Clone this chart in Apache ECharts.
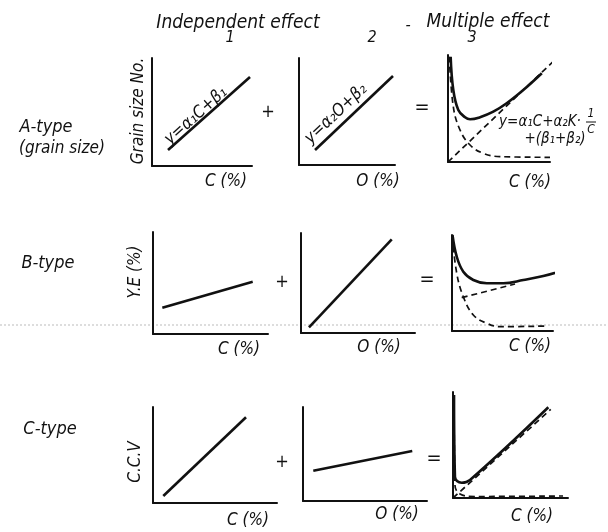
<!DOCTYPE html>
<html>
<head>
<meta charset="utf-8">
<script src="https://cdn.jsdelivr.net/npm/echarts@6/dist/echarts.min.js"></script>
<style>
  html, body { margin: 0; padding: 0; background: #fff; }
  #chart { width: 608px; height: 532px; }
</style>
</head>
<body>
<div id="chart"></div>
<script>
// curves in each panel, x and y both on a 0-100 scale
const a1Line = [[16, 14.8], [98, 82.4]];
const a2Line = [[16.7, 14], [97.9, 83.2]];
const a3Sum = [[2.6, 98.4], [5.2, 67.3], [10.1, 48.6], [16.7, 41.8], [21.6, 39.9], [31.4, 41.8],
  [44.4, 47], [57.5, 54.9], [73.8, 67.3], [92, 83]];
const a3Linear = [[0, 0], [108, 98.4]];
const a3Hyper = [[1.3, 98.4], [5.2, 51.7], [11.8, 29.9], [21.6, 15.9], [34.6, 8.1], [51, 5], [100, 4.4]];

const b1Line = [[8.1, 25.8], [86.7, 51.3]];
const b2Line = [[7, 5.7], [79.6, 93.7]];
const b3Sum = [[0.5, 100], [4.7, 77.4], [11.2, 61.8], [21.1, 53.1], [34.4, 49.7], [50.8, 49.7],
  [70.6, 53.1], [90.4, 57.3], [116.8, 65.3]];
const b3Linear = [[9.6, 34.7], [62.4, 49]];
const b3Hyper = [[0.3, 98.2], [4.7, 60.1], [11.2, 35.7], [21.1, 16.7], [34.4, 8], [47.5, 4.5], [95.3, 5.2]];

const c1Line = [[8.3, 7.3], [75, 89.3]];
const c2Line = [[8.3, 32.2], [88.1, 53.2]];
const c3Sum = [[0.9, 97.2], [1.7, 20.1], [3.5, 16], [7.6, 14.4], [14.8, 17], [82.9, 85.6]];
const c3Linear = [[0, 0], [85, 83.7]];
const c3Hyper = [[0.9, 97.2], [1.7, 12.3], [6.1, 3.8], [19, 1.4], [95.7, 1.9]];

// panel frames (pixels)
const panels = [
  { left: 152, top: 58, width: 100, height: 108 },
  { left: 299, top: 58, width: 96, height: 107 },
  { left: 448, top: 55, width: 102, height: 107 },
  { left: 153, top: 232, width: 115, height: 102 },
  { left: 301, top: 233, width: 114, height: 100 },
  { left: 452, top: 235, width: 101, height: 96 },
  { left: 153, top: 407, width: 124, height: 96 },
  { left: 303, top: 407, width: 124, height: 94 },
  { left: 453, top: 392, width: 115, height: 106 }
];

const ink = '#111';
const font = "'Liberation Sans Narrow', 'DejaVu Sans Condensed', 'Liberation Sans', sans-serif";

function axis() {
  return {
    type: 'value', min: 0, max: 100,
    axisLine: { show: true, onZero: false, lineStyle: { color: ink, width: 2 } },
    axisTick: { show: false }, axisLabel: { show: false }, splitLine: { show: false }
  };
}

function solid(i, data, smooth) {
  return {
    type: 'line', xAxisIndex: i, yAxisIndex: i, data: data, showSymbol: false,
    smooth: smooth ? 0.4 : false, clip: false, silent: true,
    lineStyle: { color: ink, width: 2.6 }
  };
}
function dashed(i, data, smooth) {
  return {
    type: 'line', xAxisIndex: i, yAxisIndex: i, data: data, showSymbol: false,
    smooth: smooth ? 0.4 : false, clip: false, silent: true,
    lineStyle: { color: ink, width: 1.7, type: [6, 4] }
  };
}

function txt(s, x, y, size, rot) {
  return {
    type: 'text', x: x, y: y, rotation: rot || 0, silent: true,
    style: {
      text: s, x: 0, y: 0, fill: ink, textAlign: 'center', textVerticalAlign: 'middle',
      font: 'italic ' + size + 'px ' + font
    }
  };
}

const chart = echarts.init(document.getElementById('chart'));
chart.setOption({
  backgroundColor: '#fff',
  animation: false,
  grid: panels,
  xAxis: panels.map((p, i) => Object.assign(axis(), { gridIndex: i })),
  yAxis: panels.map((p, i) => Object.assign(axis(), { gridIndex: i })),
  series: [
    solid(0, a1Line),
    solid(1, a2Line),
    solid(2, a3Sum, true), dashed(2, a3Linear), dashed(2, a3Hyper, true),
    solid(3, b1Line),
    solid(4, b2Line),
    solid(5, b3Sum, true), dashed(5, b3Linear), dashed(5, b3Hyper, true),
    solid(6, c1Line),
    solid(7, c2Line),
    solid(8, c3Sum, true), dashed(8, c3Linear), dashed(8, c3Hyper, true)
  ],
  graphic: [
    { type: 'line', silent: true, shape: { x1: 0, y1: 325, x2: 608, y2: 325 },
      style: { stroke: '#bbb', lineWidth: 1, lineDash: [2, 2] } },
    { type: 'line', silent: true, shape: { x1: 586, y1: 122, x2: 596, y2: 122 },
      style: { stroke: ink, lineWidth: 1 } },
    txt('Independent effect', 238, 23, 19),
    txt('Multiple effect', 488, 22, 19),
    txt('-', 408, 26, 16),
    txt('1', 230, 38, 16),
    txt('2', 372, 38, 16),
    txt('3', 472, 38, 16),
    txt('A-type', 46, 127, 18),
    txt('(grain size)', 62, 149, 17),
    txt('B-type', 48, 263, 18),
    txt('C-type', 50, 429, 18),
    txt('Grain size No.', 139, 111, 17, Math.PI / 2),
    txt('Y.E (%)', 136, 272, 17, Math.PI / 2),
    txt('C.C.V', 136, 462, 17, Math.PI / 2),
    txt('y=α₁C+β₁', 196, 116, 17, 0.73),
    txt('y=α₂O+β₂', 336, 114, 17, 0.76),
    txt('y=α₁C+α₂K·', 540, 122, 15),
    txt('1', 591, 114, 12),
    txt('C', 591, 130, 12),
    txt('+(β₁+β₂)', 555, 139, 15),
    txt('+', 268, 112, 18),
    txt('=', 422, 108, 20),
    txt('+', 282, 282, 18),
    txt('=', 427, 280, 20),
    txt('+', 282, 462, 18),
    txt('=', 434, 459, 20),
    txt('C (%)', 226, 182, 17),
    txt('O (%)', 378, 182, 17),
    txt('C (%)', 530, 183, 17),
    txt('C (%)', 239, 350, 17),
    txt('O (%)', 379, 348, 17),
    txt('C (%)', 530, 347, 17),
    txt('C (%)', 248, 521, 17),
    txt('O (%)', 397, 515, 17),
    txt('C (%)', 532, 517, 17)
  ]
});
</script>
</body>
</html>
